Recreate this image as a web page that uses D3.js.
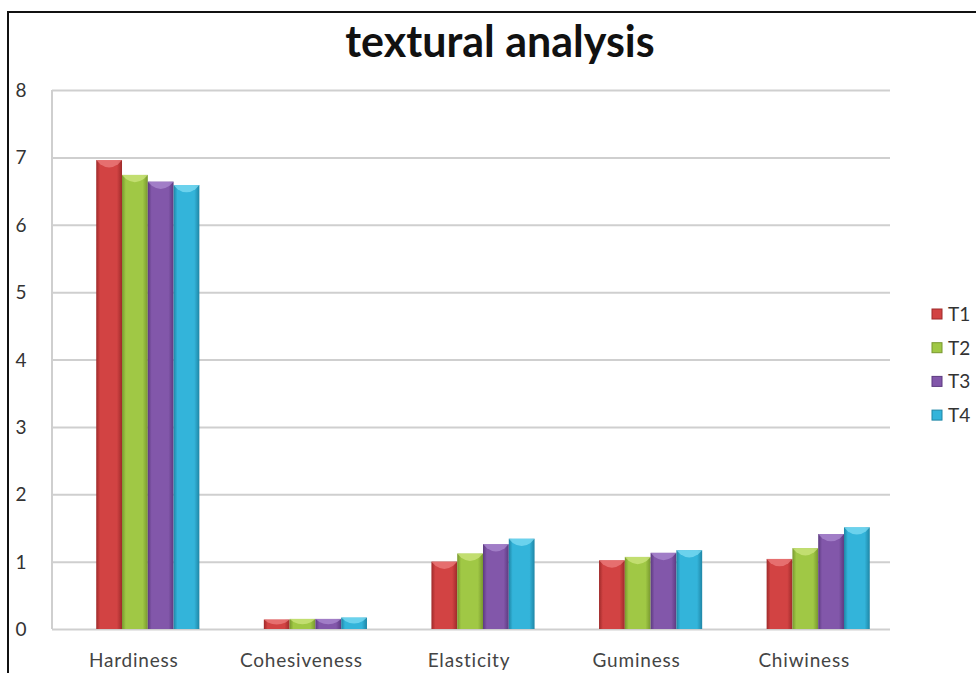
<!DOCTYPE html>
<html lang="en">
<head>
    <meta charset="UTF-8">
    <title>textural analysis</title>
    <script src="https://d3js.org/d3.v7.min.js"></script>
    <style>
        body { margin: 0; background: #fff; }
        svg { display: block; font-family: Lato, "Open Sans", sans-serif; }
    </style>
</head>
<body>
    <svg width="976" height="673"></svg>
    <script>
        const categories = ["Hardiness", "Cohesiveness", "Elasticity", "Guminess", "Chiwiness"];
        const seriesNames = ["T1", "T2", "T3", "T4"];
        const T1 = [6.96, 0.14, 1.00, 1.02, 1.04];
        const T2 = [6.74, 0.15, 1.12, 1.07, 1.20];
        const T3 = [6.64, 0.15, 1.26, 1.13, 1.41];
        const T4 = [6.59, 0.17, 1.34, 1.17, 1.51];
        const yTicks = [0, 1, 2, 3, 4, 5, 6, 7, 8];
        const values = [T1, T2, T3, T4];

        const colors = ["#d24343", "#a0c845", "#8257aa", "#33b4da"];
        const darks  = ["#9e2a2a", "#78982e", "#5c3a80", "#1f86a6"];
        const lights = ["#ec7d7d", "#cde57f", "#ab8ad0", "#7fdcf3"];

        const svg = d3.select("svg");
        const plot = { left: 52, right: 890, top: 90, bottom: 629 };

        // outer frame (only top and left visible)
        svg.append("line").attr("x1", 7).attr("x2", 976).attr("y1", 12).attr("y2", 12)
            .attr("stroke", "#111").attr("stroke-width", 2);
        svg.append("line").attr("x1", 8).attr("x2", 8).attr("y1", 11).attr("y2", 673)
            .attr("stroke", "#111").attr("stroke-width", 2);

        svg.append("text").attr("x", 500).attr("y", 57).attr("text-anchor", "middle")
            .attr("font-size", 43).attr("font-weight", "bold").attr("fill", "#111")
            .text("textural analysis");

        const y = d3.scaleLinear().domain([0, 8]).range([plot.bottom, plot.top]);
        // bars are offset right a little from the floor, as in the 3-D style original
        const x0 = d3.scaleBand().domain(categories).range([plot.left + 12, plot.right + 12]);
        const x1 = d3.scaleBand().domain(seriesNames)
            .range([0, x0.bandwidth()]).paddingOuter(1.25);

        // gridlines
        svg.append("g").selectAll("line").data(yTicks).join("line")
            .attr("x1", plot.left).attr("x2", plot.right)
            .attr("y1", d => y(d) + 0.5).attr("y2", d => y(d) + 0.5)
            .attr("stroke", "#cfcfcf").attr("stroke-width", 2);
        svg.append("line").attr("x1", plot.left).attr("x2", plot.left)
            .attr("y1", plot.top).attr("y2", plot.bottom)
            .attr("stroke", "#cfcfcf").attr("stroke-width", 2);

        // y tick labels
        svg.append("g").selectAll("text").data(yTicks).join("text")
            .attr("x", 21).attr("y", d => y(d) + 7).attr("text-anchor", "middle")
            .attr("font-size", 19).attr("fill", "#333").text(d => d);

        // x labels
        svg.append("g").selectAll("text").data(categories).join("text")
            .attr("x", d => x0(d) + x0.bandwidth() / 2 - 14).attr("y", 667)
            .attr("text-anchor", "middle").attr("font-size", 19).attr("fill", "#444")
            .attr("letter-spacing", 0.8)
            .text(d => d);

        // gradients
        const defs = svg.append("defs");
        seriesNames.forEach((s, i) => {
            const g = defs.append("linearGradient").attr("id", "g" + i)
                .attr("x1", "0%").attr("x2", "100%").attr("y1", "0%").attr("y2", "0%");
            g.append("stop").attr("offset", "0%").attr("stop-color", darks[i]);
            g.append("stop").attr("offset", "15%").attr("stop-color", colors[i]);
            g.append("stop").attr("offset", "80%").attr("stop-color", colors[i]);
            g.append("stop").attr("offset", "100%").attr("stop-color", darks[i]);
        });

        const bars = [];
        categories.forEach((c, ci) => {
            seriesNames.forEach((s, si) => {
                bars.push({ c, s, si, v: values[si][ci] });
            });
        });

        const g = svg.append("g");
        g.selectAll("rect").data(bars).join("rect")
            .attr("x", d => x0(d.c) + x1(d.s))
            .attr("y", d => y(d.v))
            .attr("width", x1.bandwidth())
            .attr("height", d => y(0) - y(d.v))
            .attr("fill", d => `url(#g${d.si})`);

        // bevel cap at top of each bar
        g.selectAll("path").data(bars).join("path")
            .attr("d", d => {
                const bx = x0(d.c) + x1(d.s), w = x1.bandwidth(), ty = y(d.v);
                const h = Math.min(7, (y(0) - ty) / 2);
                return `M${bx},${ty} L${bx + w},${ty} L${bx + w - 4},${ty + h * 0.6} ` +
                       `Q${bx + w / 2},${ty + h * 1.5} ${bx + 4},${ty + h * 0.6} Z`;
            })
            .attr("fill", d => lights[d.si]).attr("opacity", 0.75);

        // legend
        const leg = svg.append("g").selectAll("g").data(seriesNames).join("g")
            .attr("transform", (d, i) => `translate(932,${314 + i * 33.7})`);
        leg.append("rect").attr("x", 0).attr("y", -5).attr("width", 10).attr("height", 10)
            .attr("fill", (d, i) => colors[i]).attr("stroke", (d, i) => darks[i]);
        leg.append("text").attr("x", 16).attr("y", 7).attr("font-size", 19).attr("fill", "#333")
            .text(d => d);
    </script>
</body>
</html>
